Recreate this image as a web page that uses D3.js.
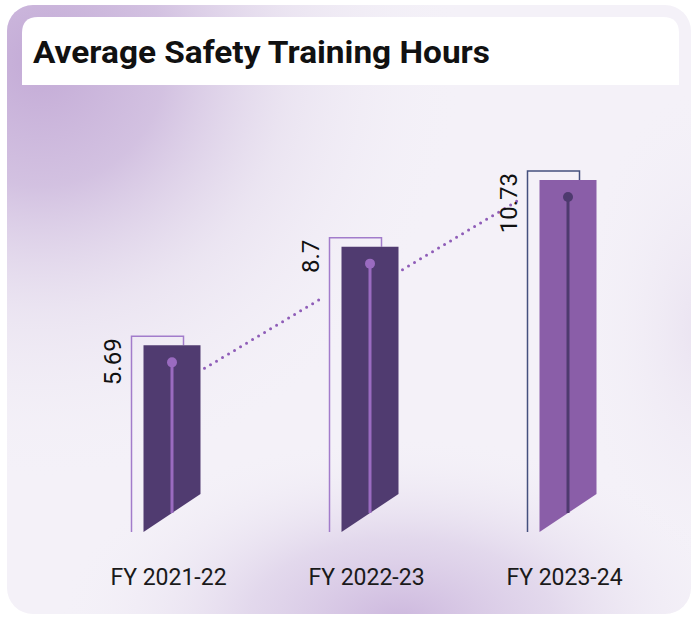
<!DOCTYPE html>
<html>
<head>
<meta charset="utf-8">
<script src="https://cdn.jsdelivr.net/npm/d3@7"></script>
<style>
  html, body { margin: 0; padding: 0; background: #ffffff; }
  svg { display: block; }
</style>
</head>
<body>
<svg id="chart" width="694" height="617"></svg>
<script>
// Fiscal years and average training hours per employee
const categories = ["FY 2021-22", "FY 2022-23", "FY 2023-24"];
const hours = [5.69, 8.7, 10.73];
const valueLabels = ["5.69", "8.7", "10.73"];
const title = "Average Safety Training Hours";

// Per-bar styling (last year highlighted in a lighter purple)
const barFill = ["#503b70", "#503b70", "#8a5ea8"];
const stemColor = ["#9a6bc0", "#9a6bc0", "#4e3a6e"];
const frameColor = ["#a27ccb", "#a27ccb", "#44507e"];

const W = 694, H = 617;
const svg = d3.select("#chart");
const defs = svg.append("defs");

// Card background: soft lavender with purple glows
defs.append("clipPath").attr("id", "card")
  .append("rect").attr("x", 7).attr("y", 5).attr("width", 684).attr("height", 609).attr("rx", 26);

function glow(id, cx, cy, r, sx, sy, stops) {
  const g = defs.append("radialGradient").attr("id", id)
    .attr("gradientUnits", "userSpaceOnUse").attr("cx", cx).attr("cy", cy).attr("r", r)
    .attr("gradientTransform", `translate(${cx},${cy}) scale(${sx},${sy}) translate(${-cx},${-cy})`);
  stops.forEach(s => g.append("stop").attr("offset", s[0]).attr("stop-color", s[1]).attr("stop-opacity", s[2]));
}
glow("glowTL", 40, 60, 420, 1.0, 1.0, [
  [0, "#c3aad6", 1], [0.3, "#cdb9dd", 0.85], [0.6, "#e2d8eb", 0.5], [1, "#f3f0f7", 0]
]);
glow("glowB", 400, 620, 260, 1.3, 0.7, [
  [0, "#cdb8de", 1], [0.45, "#d9cbe6", 0.65], [1, "#f3f0f7", 0]
]);
glow("glowR", 700, 330, 200, 0.6, 1.2, [
  [0, "#e6ddee", 0.7], [1, "#f3f0f7", 0]
]);

const card = svg.append("g").attr("clip-path", "url(#card)");
card.append("rect").attr("width", W).attr("height", H).attr("fill", "#f4f1f8");
["glowTL", "glowB", "glowR"].forEach(id =>
  card.append("rect").attr("width", W).attr("height", H).attr("fill", `url(#${id})`));

// White title band with rounded top corners
const tx0 = 22, tx1 = 679, ty0 = 17, ty1 = 85, tr = 16;
svg.append("path")
  .attr("d", `M${tx0},${ty1} V${ty0 + tr} Q${tx0},${ty0} ${tx0 + tr},${ty0} H${tx1 - tr} Q${tx1},${ty0} ${tx1},${ty0 + tr} V${ty1} Z`)
  .attr("fill", "#ffffff");

svg.append("text")
  .attr("x", 33).attr("y", 63)
  .attr("font-family", "Roboto, 'Noto Sans', sans-serif")
  .attr("font-weight", 700)
  .attr("font-size", 32)
  .attr("textLength", 457)
  .attr("lengthAdjust", "spacingAndGlyphs")
  .attr("fill", "#111111")
  .text(title);

// Scales
const baseline = 532;
const x = d3.scalePoint().domain(categories).range([172, 568]);
const y = d3.scaleLinear().domain([0, 12]).range([baseline, 138.4]);
const barW = 57, slant = 38;

const data = categories.map((c, i) => ({ c, v: hours[i], label: valueLabels[i], i }));

// Dotted trend connectors between neighbouring bars
const stepRise = 70;
for (let i = 0; i < data.length - 1; i++) {
  const a = data[i], b = data[i + 1];
  const xs = x(a.c) + barW / 2 + 4;
  const ys = y(a.v) + 23;
  const xe = x(b.c) - barW / 2 - 12 - 8;
  svg.append("line")
    .attr("x1", xs).attr("y1", ys)
    .attr("x2", xe).attr("y2", ys - stepRise)
    .attr("stroke", "#8f5db8")
    .attr("stroke-width", 3)
    .attr("stroke-linecap", "round")
    .attr("stroke-dasharray", "0 7");
}

const bars = svg.selectAll("g.bar").data(data).join("g").attr("class", "bar");

// Bracket frame behind each bar
bars.append("path")
  .attr("d", d => {
    const x0 = x(d.c) - barW / 2;
    const top = y(d.v) - 9;
    return `M${x0 - 12},${baseline} V${top} H${x0 + 40} V${y(d.v)}`;
  })
  .attr("fill", "none")
  .attr("stroke", d => frameColor[d.i])
  .attr("stroke-width", 1.5);

// Bar body with slanted bottom edge
bars.append("path")
  .attr("d", d => {
    const x0 = x(d.c) - barW / 2, x1 = x(d.c) + barW / 2;
    return `M${x0},${y(d.v)} H${x1} V${baseline - slant} L${x0},${baseline} Z`;
  })
  .attr("fill", d => barFill[d.i]);

// Stem and pin inside each bar
bars.append("line")
  .attr("x1", d => x(d.c)).attr("x2", d => x(d.c))
  .attr("y1", d => y(d.v) + 17)
  .attr("y2", baseline - slant / 2)
  .attr("stroke", d => stemColor[d.i])
  .attr("stroke-width", 3);

bars.append("circle")
  .attr("cx", d => x(d.c))
  .attr("cy", d => y(d.v) + 17)
  .attr("r", 5)
  .attr("fill", d => stemColor[d.i]);

// Rotated value labels beside the frames
bars.append("text")
  .attr("transform", d => `translate(${x(d.c) - barW / 2 - 12 - 11},${y(d.v) - 7}) rotate(-90)`)
  .attr("text-anchor", "end")
  .attr("font-family", "Roboto, 'Noto Sans', sans-serif")
  .attr("font-size", 24)
  .attr("fill", "#111111")
  .text(d => d.label);

// Category axis labels
svg.append("g")
  .attr("transform", `translate(-4,${baseline})`)
  .call(d3.axisBottom(x).tickSize(0).tickPadding(0))
  .call(g => g.select(".domain").remove())
  .selectAll("text")
  .attr("y", 53)
  .attr("dy", 0)
  .attr("font-family", "Roboto, 'Noto Sans', sans-serif")
  .attr("font-size", 23)
  .attr("fill", "#1a1a1a");
</script>
</body>
</html>
